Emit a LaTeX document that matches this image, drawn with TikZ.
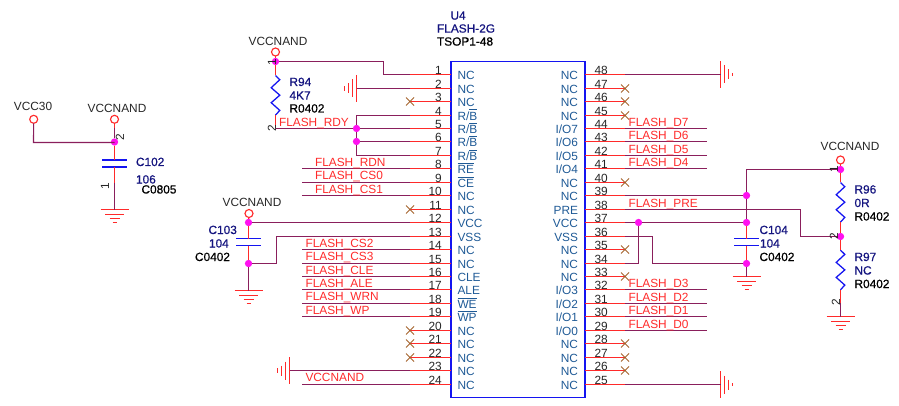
\documentclass[tikz,border=0pt]{standalone}
\usepackage{fontspec}
\setmainfont{Liberation Sans}
\newfontfamily\fakeb[FakeBold=0.7]{Liberation Sans}
\definecolor{wirec}{HTML}{8A1F5C}
\definecolor{redc}{HTML}{FF2A2A}
\definecolor{bluec}{HTML}{1414F0}
\definecolor{pinc}{HTML}{1F5A96}
\definecolor{navyc}{HTML}{14147F}
\definecolor{xc}{HTML}{A5632D}
\definecolor{dotc}{HTML}{FF10F0}
\newcommand\ovl[1]{\setbox0\hbox{#1}\rlap{\raise 7.4pt\hbox{\vrule width\wd0 height 0.55pt}}\box0}
\newcommand\gndD[3]{\coordinate (#1) at (#2,#3);
  \draw[gnd] (#2-14,#3) -- (#2+14,#3) (#2-9.5,#3+5) -- (#2+9.5,#3+5) (#2-5,#3+9) -- (#2+5,#3+9) (#2-2,#3+13) -- (#2+2,#3+13);}
\newcommand\gndL[3]{\coordinate (#1) at (#2,#3);
  \draw[gnd] (#2,#3-13.5) -- (#2,#3+13.5) (#2-4,#3-9) -- (#2-4,#3+9) (#2-8,#3-5) -- (#2-8,#3+5) (#2-12,#3-2.2) -- (#2-12,#3+2.2);}
\newcommand\gndR[3]{\coordinate (#1) at (#2,#3);
  \draw[gnd] (#2,#3-13.5) -- (#2,#3+13.5) (#2+4,#3-9) -- (#2+4,#3+9) (#2+8,#3-5) -- (#2+8,#3+5) (#2+12,#3-1.5) -- (#2+12,#3+1.5);}
\newcommand\capV[4]{\coordinate (#1a) at (#2,#3); \coordinate (#1b) at (#2,#3+7);
  \draw[capst] (#2-12.5,#3) -- (#2+12.5,#3) (#2-12.5,#3+7) -- (#2+12.5,#3+7);}
\newcommand\resV[3]{\coordinate (#1a) at (#2,#3); \coordinate (#1b) at (#2,#3+39.6);
  \draw[resst] (#1a) -- ++(4.3,4.2) -- ++(-8.6,8) -- ++(8.6,7.5) -- ++(-8.6,7.5) -- ++(8.6,7.7) -- (#1b);}
\tikzset{
  x=0.75pt,y=-0.75pt,
  wire/.style={draw=wirec,line width=0.85pt},
  stub/.style={draw=redc,line width=0.85pt},
  gnd/.style={draw=redc,line width=0.85pt},
  capst/.style={draw=bluec,line width=1pt},
  resst/.style={draw=bluec,line width=0.95pt,line join=miter},
  boxst/.style={draw=bluec,line width=1.1pt},
  txt/.style={font=\fontsize{8.9}{10}\selectfont,inner sep=0pt,outer sep=0pt,text=black!85},
  lab/.style={txt,anchor=base west},
  pinname/.style={txt,text=pinc},
  pinnum/.style={txt,text=black!85},
  netlab/.style={lab,text=redc},
  refd/.style={lab,text=navyc,font=\fontsize{8.9}{10}\selectfont\fakeb},
  val/.style={lab,text=black,font=\fontsize{8.9}{10}\selectfont\fakeb},
  dotn/.style={circle,fill=dotc,draw=none,minimum size=5.5pt,inner sep=0pt,outer sep=0pt},
  vcc/.style={circle,draw=redc,line width=0.85pt,fill=none,minimum size=6pt,inner sep=0pt,outer sep=0pt},
  numrot/.style={txt,rotate=90,anchor=center},
}
\begin{document}
\begin{tikzpicture}
\useasboundingbox (0,0) rectangle (899,406);
% IC
\draw[boxst] (451,61.5) rectangle (585,397.5);
\node[refd] (u4) at (450.5,19.6) {U4};
\node[refd] (u4v) at (437,32.6) {FLASH-2G};
\node[val] (u4p) at (437,45.6) {TSOP1-48};
% pins
\foreach \n/\t in {1/NC,2/NC,3/NC,4/{R/\ovl{B}},5/{R/\ovl{B}},6/{R/\ovl{B}},7/{R/\ovl{B}},8/\ovl{RE},9/\ovl{CE},10/NC,11/NC,12/VCC,13/VSS,14/NC,15/NC,16/CLE,17/ALE,18/\ovl{WE},19/\ovl{WP},20/NC,21/NC,22/NC,23/NC,24/NC}{
  \pgfmathsetmacro\yy{74.7+13.45*(\n-1)}
  \pgfmathsetmacro\ys{floor(\yy+0.001)+0.5}
  \coordinate (L\n) at (410,\ys);
  \coordinate (PL\n) at (451,\ys);
  \draw[stub] (L\n) -- (PL\n);
  \node[pinnum,anchor=base east] (numL\n) at (441.8,\yy) {\n};
  \node[pinname,anchor=base west] (nameL\n) at (457.5,\yy+5) {\t};
}
\foreach \n/\t in {48/NC,47/NC,46/NC,45/NC,44/{I/O7},43/{I/O6},42/{I/O5},41/{I/O4},40/NC,39/NC,38/PRE,37/VCC,36/VSS,35/NC,34/NC,33/NC,32/{I/O3},31/{I/O2},30/{I/O1},29/{I/O0},28/NC,27/NC,26/NC,25/NC}{
  \pgfmathsetmacro\yy{74.7+13.45*(48-\n)}
  \pgfmathsetmacro\ys{floor(\yy+0.001)+0.5}
  \coordinate (R\n) at (625,\ys);
  \coordinate (PR\n) at (585,\ys);
  \draw[stub] (PR\n) -- (R\n);
  \node[pinnum,anchor=base west] (numR\n) at (594.6,\yy) {\n};
  \node[pinname,anchor=base east] (nameR\n) at (578,\yy+5) {\t};
}
% no-connect marks
\foreach \n in {3,11,20,21,22}{
  \draw[xc,line width=0.6pt] ([shift={(-4,-4)}]L\n) -- ([shift={(4,4)}]L\n) ([shift={(-4,4)}]L\n) -- ([shift={(4,-4)}]L\n);
}
\foreach \n in {47,46,45,40,35,33,28,27,26}{
  \draw[xc,line width=0.6pt] ([shift={(-4,-4)}]R\n) -- ([shift={(4,4)}]R\n) ([shift={(-4,4)}]R\n) -- ([shift={(4,-4)}]R\n);
}
% bus stubs with labels, left
\foreach \n/\t/\lx in {8/FLASH\_RDN/315,9/FLASH\_CS0/315,10/FLASH\_CS1/315,14/FLASH\_CS2/305.5,15/FLASH\_CS3/305.5,16/FLASH\_CLE/305.5,17/FLASH\_ALE/305.5,18/FLASH\_WRN/305.5,19/FLASH\_WP/305.5,24/VCCNAND/305.5}{
  \pgfmathsetmacro\ys{floor(74.7+13.45*(\n-1)+0.001)+0.5}
  \coordinate (E\n) at (302,\ys);
  \draw[wire] (E\n) -- (L\n);
  \node[netlab] (lab\n) at (\lx,{74.7+13.45*(\n-1)-2.4}) {\t};
}
% bus stubs with labels, right
\foreach \n/\t in {44/FLASH\_D7,43/FLASH\_D6,42/FLASH\_D5,41/FLASH\_D4,32/FLASH\_D3,31/FLASH\_D2,30/FLASH\_D1,29/FLASH\_D0}{
  \pgfmathsetmacro\ys{floor(74.7+13.45*(48-\n)+0.001)+0.5}
  \coordinate (E\n) at (706.5,\ys);
  \draw[wire] (R\n) -- (E\n);
  \node[netlab] (lab\n) at (628.5,{74.7+13.45*(48-\n)-2}) {\t};
}
\node[netlab] (lab38) at (628.5,207) {FLASH\_PRE};
% C102
\node[vcc] (v30) at (33.7,119.3) {};
\node[vcc] (v1) at (114.5,119.3) {};
\node[dotn] (d1) at (114.5,142) {};
\node[txt] (v30t) at (33,106) {VCC30};
\node[txt] (v1t) at (117,108.5) {VCCNAND};
\coordinate (c30) at (33.5,142.5);
\coordinate (c30r) at (114.5,142.5);
\draw[wire] (v30) -- (c30) -- (c30r);
\coordinate (v1s) at (114.5,128);
\draw[stub] (v1) -- (v1s);
\draw[wire] (v1s) -- (d1);
\capV{c102}{114.5}{160}{}
\draw[stub] (d1) -- (c102a);
\gndD{g102}{114.5}{209.5}
\coordinate (c102s) at (114.5,183);
\draw[stub] (c102b) -- (c102s);
\draw[wire] (c102s) -- (g102);
\node[numrot] (n1022) at (120,137) {2};
\node[numrot] (n1021) at (105,186) {1};
\node[refd] (c102r) at (136,166) {C102};
\node[refd] (c102v) at (136,183.5) {106};
\node[val] (c102p) at (141.5,193.5) {C0805};
% R94
\node[vcc] (v2) at (275.5,52) {};
\node[dotn] (d2) at (275.5,61.5) {};
\node[txt] (v2t) at (278,41) {VCCNAND};
\draw[stub] (v2) -- (d2);
\resV{r94}{275.5}{75.5}
\draw[stub] (d2) -- (r94a);
\coordinate (r94e) at (275.5,128.5);
\draw[stub] (r94b) -- (r94e);
\node[dotn] (d5) at (356.5,128.5) {};
\node[dotn] (d6) at (356.5,141.5) {};
\coordinate (c1) at (383.5,61.5);
\coordinate (c1b) at (383.5,74.5);
\draw[wire] (d2) -- (c1) -- (c1b) -- (L1);
\draw[wire] (r94e) -- (d5);
\draw[wire] (d5) -- (L5);
\draw[wire] (d6) -- (L6);
\draw[wire] (d5) -- (d6);
\coordinate (c4) at (356.5,115.5);
\coordinate (c7) at (356.5,155.5);
\draw[wire] (L4) -- (c4) -- (d5);
\draw[wire] (d6) -- (c7) -- (L7);
\node[numrot] (n941) at (272,62) {1};
\node[numrot] (n942) at (272,128.5) {2};
\node[refd] (r94r) at (289.5,86) {R94};
\node[refd] (r94v) at (289.5,99.5) {4K7};
\node[val] (r94p) at (289.5,112.5) {R0402};
\node[netlab] (labrdy) at (279,126.3) {FLASH\_RDY};
% pin 2 & 23 grounds
\gndL{g2}{356.5}{88.5}
\draw[wire] (g2) -- (L2);
\gndL{g23}{289.5}{370.5}
\draw[wire] (g23) -- (L23);
% C103
\node[vcc] (v3) at (249,213.5) {};
\node[dotn] (d12) at (248.5,222.5) {};
\node[dotn] (d15) at (248.5,263.5) {};
\node[txt] (v3t) at (252,202.5) {VCCNAND};
\draw[stub] (v3) -- (d12);
\draw[wire] (d12) -- (L12);
\capV{c103}{248.5}{238.5}{}
\draw[stub] (d12) -- (c103a);
\draw[stub] (c103b) -- (d15);
\coordinate (c13a) at (276.5,263.5);
\coordinate (c13b) at (276.5,236.5);
\draw[wire] (d15) -- (c13a) -- (c13b) -- (L13);
\gndD{g103}{248.5}{290.5}
\draw[wire] (d15) -- (g103);
\node[refd] (c103r) at (208.5,234) {C103};
\node[refd] (c103v) at (209,247.5) {104};
\node[val] (c103p) at (195,261) {C0402};
% right side
\gndR{g48}{720.5}{74.5}
\draw[wire] (R48) -- (g48);
\gndR{g25}{720.5}{384.5}
\draw[wire] (R25) -- (g25);
\node[vcc] (v4) at (840.5,160) {};
\node[dotn] (d41) at (840.5,169.5) {};
\node[dotn] (d39) at (746.5,195.5) {};
\node[dotn] (d37) at (746.5,222.5) {};
\node[dotn] (d37b) at (638.5,222.5) {};
\node[dotn] (d34) at (746.5,263.5) {};
\node[dotn] (dm) at (840.5,236.5) {};
\node[txt] (v4t) at (850,146) {VCCNAND};
\draw[stub] (v4) -- (d41);
\coordinate (ct) at (746.5,169.5);
\draw[wire] (d41) -- (ct) -- (d39);
\draw[wire] (R39) -- (d39);
\draw[wire] (d39) -- (d37);
\draw[wire] (R37) -- (d37b);
\draw[wire] (d37b) -- (d37);
\coordinate (c34) at (638.5,263.5);
\draw[wire] (R34) -- (c34) -- (d37b);
\coordinate (c36a) at (652.5,236.5);
\coordinate (c36b) at (652.5,263.5);
\draw[wire] (R36) -- (c36a) -- (c36b) -- (d34);
\capV{c104}{746.5}{238.5}{}
\draw[stub] (d37) -- (c104a);
\draw[stub] (c104b) -- (d34);
\gndD{g104}{746.5}{276.5}
\draw[wire] (d34) -- (g104);
\coordinate (c38a) at (800.5,209.5);
\coordinate (c38b) at (800.5,236.5);
\draw[wire] (R38) -- (c38a) -- (c38b) -- (dm);
\resV{r96}{840.5}{182.5}
\draw[stub] (d41) -- (r96a);
\draw[stub] (r96b) -- (dm);
\resV{r97}{840.5}{250.2}
\draw[stub] (dm) -- (r97a);
\coordinate (r97s) at (840.5,303);
\draw[stub] (r97b) -- (r97s);
\gndD{g97}{840.5}{316.5}
\draw[wire] (r97s) -- (g97);
\node[numrot] (n961) at (834,169) {1};
\node[numrot] (n962) at (834,236) {2};
\node[numrot] (n972) at (836,302.5) {2};
\node[refd] (r96r) at (854.5,193.5) {R96};
\node[refd] (r96v) at (854.5,207) {0R};
\node[val] (r96p) at (854.5,220.5) {R0402};
\node[refd] (r97r) at (854.5,261) {R97};
\node[refd] (r97v) at (854.5,274.5) {NC};
\node[val] (r97p) at (854.5,288) {R0402};
\node[refd] (c104r) at (759.5,234) {C104};
\node[refd] (c104v) at (760,247.5) {104};
\node[val] (c104p) at (759.5,261) {C0402};
\end{tikzpicture}
\end{document}
